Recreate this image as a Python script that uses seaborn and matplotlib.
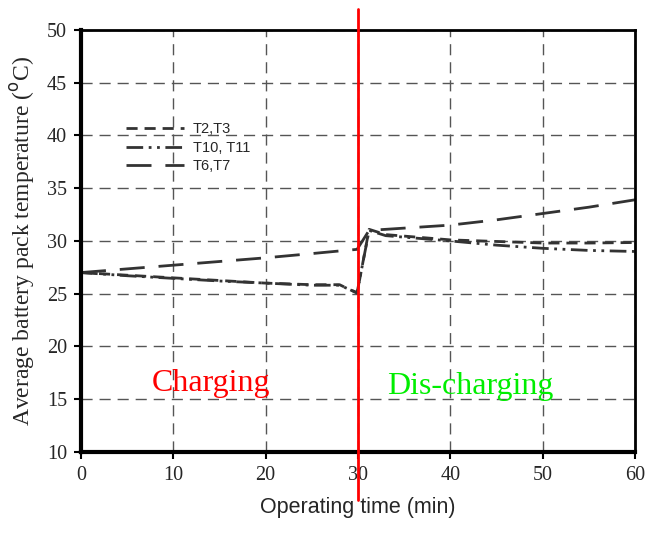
import matplotlib
matplotlib.use("Agg")
import matplotlib.pyplot as plt
import seaborn as sns
import numpy as np

time_min = [0, 5, 10, 15, 20, 25, 28, 29.9, 31.2, 33, 40, 45, 50, 55, 60]
t2_t3 = [27, 26.75, 26.5, 26.25, 26.0, 25.85, 25.85, 25.05, 31.1, 30.6, 30.1, 29.95, 29.8, 29.8, 29.85]
t10_t11 = [27, 26.7, 26.45, 26.2, 26.0, 25.8, 25.8, 25.1, 31.0, 30.5, 30.0, 29.6, 29.3, 29.1, 29.0]
t6_t7 = [27, 27.35, 27.7, 28.05, 28.4, 28.8, 29.05, 29.2, 31.0, 31.1, 31.5, 32.0, 32.6, 33.2, 33.9]
labels = ["T2,T3", "T10, T11", "T6,T7"]
x_ticks = [0, 10, 20, 30, 40, 50, 60]
y_ticks = [10, 15, 20, 25, 30, 35, 40, 45, 50]

sns.set_style("white")
serif = "Liberation Serif"
sans = "Liberation Sans"

fig = plt.figure(figsize=(6.48, 5.36), dpi=100)
ax = fig.add_axes([0.125, 0.157, 0.855, 0.787])

line_col = "#333333"
sns.lineplot(x=time_min, y=t2_t3, ax=ax, color=line_col, lw=2, label=labels[0])
sns.lineplot(x=time_min, y=t10_t11, ax=ax, color=line_col, lw=2, label=labels[1])
sns.lineplot(x=time_min, y=t6_t7, ax=ax, color=line_col, lw=2, label=labels[2])
lines = ax.get_lines()
lines[0].set_dashes([4, 2.5])
lines[1].set_dashes([6, 2, 1, 2, 1, 2])
lines[2].set_dashes([9, 5])

ax.set_xlim(0, 60)
ax.set_ylim(10, 50)
ax.set_xticks(x_ticks)
ax.set_yticks(y_ticks)
ax.grid(True, color="#555555", lw=1.0, ls=(0, (8, 5)))
ax.set_axisbelow(True)

for lab in ax.get_xticklabels() + ax.get_yticklabels():
    lab.set_fontfamily(serif)
    lab.set_fontsize(14.5)
ax.tick_params(axis="both", direction="out", length=5, width=1.5, color="black", pad=5,
               bottom=True, left=True)

for s in ["left", "bottom"]:
    ax.spines[s].set_linewidth(3)
    ax.spines[s].set_color("black")
for s in ["top", "right"]:
    ax.spines[s].set_linewidth(2)
    ax.spines[s].set_color("black")

ax.set_xlabel("Operating time (min)", fontfamily=sans, fontsize=15.5, labelpad=9)
ax.set_ylabel("Average battery pack temperature ($^{\\mathrm{o}}$C)", fontfamily=serif, fontsize=17, labelpad=7)

ax.axvline(30, color="red", lw=2, ymin=-0.115, ymax=1.05, clip_on=False, zorder=5)

ax.text(14.1, 16.5, "Charging", color="red", fontfamily=serif, fontsize=23,
        ha="center", va="center")
ax.text(42.2, 16.2, "Dis-charging", color="#00ee00", fontfamily=serif, fontsize=23,
        ha="center", va="center")

leg = ax.legend(loc="upper left", bbox_to_anchor=(0.07, 0.795), frameon=False,
                prop={"family": sans, "size": 10.5}, handlelength=4.0, handletextpad=0.6,
                labelspacing=0.3, borderaxespad=0)

fig.savefig("out.png", dpi=100)
